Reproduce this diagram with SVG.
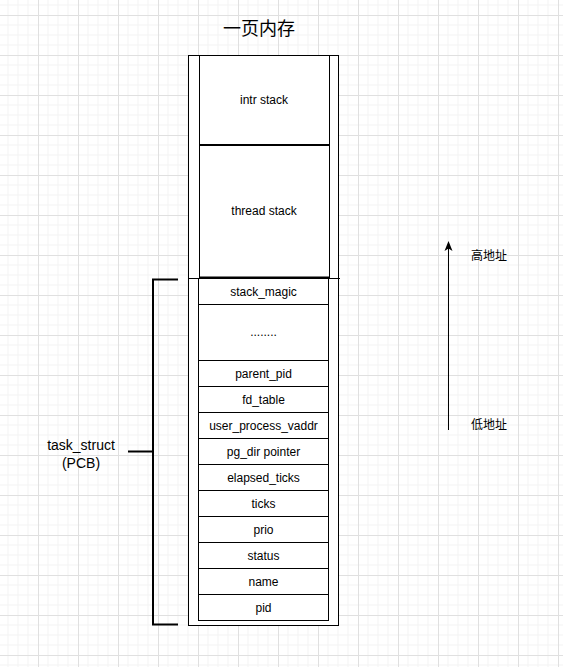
<svg xmlns="http://www.w3.org/2000/svg" width="563" height="667" viewBox="0 0 563 667">
  <defs>
    <pattern id="grid" x="38" y="15" width="40" height="40" patternUnits="userSpaceOnUse">
      <path d="M10 0V40M20 0V40M30 0V40M0 10H40M0 20H40M0 30H40" stroke="#f3f3f3" stroke-width="1" fill="none"/>
      <path d="M0.5 0V40M0 0.5H40" stroke="#e0e0e0" stroke-width="1" fill="none"/>
    </pattern>
    <marker id="arrow" markerWidth="10" markerHeight="10" refX="5" refY="5" orient="auto" markerUnits="userSpaceOnUse">
      <path d="M0 1 L10 5 L0 9 L2.5 5 Z" fill="#000"/>
    </marker>
    <style>
      .box { fill: #fff; stroke: #000; stroke-width: 1; }
      .lbl { font-family: "Liberation Sans", Arial, Helvetica, sans-serif; font-size: 12px; fill: #000; text-anchor: middle; dominant-baseline: central; }
      .cjk { font-family: "Liberation Sans", "Noto Sans CJK SC", sans-serif; fill: #000; }
      .thick { stroke: #000; stroke-width: 2; fill: none; }
    </style>
  </defs>

  <rect width="563" height="667" fill="#fff"/>
  <rect width="563" height="667" fill="url(#grid)"/>

  <!-- title -->
  <text class="cjk" x="259" y="35" font-size="18" text-anchor="middle">一页内存</text>

  <!-- page frame -->
  <g id="page">
    <rect class="box" x="188.5" y="55.5" width="150" height="570"/>
  </g>

  <g id="intr-stack">
    <rect class="box" x="199.5" y="55.5" width="130" height="90"/>
    <text class="lbl" x="264" y="100">intr stack</text>
  </g>

  <g id="thread-stack">
    <rect class="box" x="199.5" y="145.5" width="130" height="132"/>
    <text class="lbl" x="264" y="211">thread stack</text>
  </g>

  <g id="cells">
    <g id="stack_magic"><rect class="box" x="198.5" y="278.5" width="130" height="26"/><text class="lbl" x="263.5" y="292">stack_magic</text></g>
    <g id="ellipsis"><rect class="box" x="198.5" y="304.5" width="130" height="56"/><text class="lbl" x="263.5" y="332">........</text></g>
    <g id="parent_pid"><rect class="box" x="198.5" y="360.5" width="130" height="26"/><text class="lbl" x="263.5" y="374">parent_pid</text></g>
    <g id="fd_table"><rect class="box" x="198.5" y="386.5" width="130" height="26"/><text class="lbl" x="263.5" y="400">fd_table</text></g>
    <g id="user_process_vaddr"><rect class="box" x="198.5" y="412.5" width="130" height="26"/><text class="lbl" x="263.5" y="426">user_process_vaddr</text></g>
    <g id="pg_dir"><rect class="box" x="198.5" y="438.5" width="130" height="26"/><text class="lbl" x="263.5" y="452">pg_dir pointer</text></g>
    <g id="elapsed_ticks"><rect class="box" x="198.5" y="464.5" width="130" height="26"/><text class="lbl" x="263.5" y="478">elapsed_ticks</text></g>
    <g id="ticks"><rect class="box" x="198.5" y="490.5" width="130" height="26"/><text class="lbl" x="263.5" y="504">ticks</text></g>
    <g id="prio"><rect class="box" x="198.5" y="516.5" width="130" height="26"/><text class="lbl" x="263.5" y="530">prio</text></g>
    <g id="status"><rect class="box" x="198.5" y="542.5" width="130" height="26"/><text class="lbl" x="263.5" y="556">status</text></g>
    <g id="name"><rect class="box" x="198.5" y="568.5" width="130" height="26"/><text class="lbl" x="263.5" y="582">name</text></g>
    <g id="pid"><rect class="box" x="198.5" y="594.5" width="130" height="26"/><text class="lbl" x="263.5" y="608">pid</text></g>
  </g>

  <g id="connectors">
    <!-- stack boundaries -->
    <line x1="199" y1="145" x2="330" y2="145" class="thick"/>
    <line x1="199" y1="277.5" x2="330" y2="277.5" class="thick"/>
    <line x1="188" y1="278.5" x2="340" y2="278.5" stroke="#000" stroke-width="1"/>
    <!-- PCB bracket -->
    <path d="M178 279.5 H153 V624.5 H178" class="thick"/>
    <line x1="128" y1="451.5" x2="153" y2="451.5" class="thick"/>
    <!-- address direction -->
    <line x1="448.5" y1="430" x2="448.5" y2="246" stroke="#000" stroke-width="1" marker-end="url(#arrow)"/>
  </g>

  <g id="pcb-label">
    <text class="lbl" x="81" y="445" font-size="14" style="font-size:14px">task_struct</text>
    <text class="lbl" x="81" y="463" font-size="14" style="font-size:14px">(PCB)</text>
  </g>

  <g id="addr-labels">
    <text class="cjk" x="471" y="259.5" font-size="12">高地址</text>
    <text class="cjk" x="471" y="428.5" font-size="12">低地址</text>
  </g>
</svg>
